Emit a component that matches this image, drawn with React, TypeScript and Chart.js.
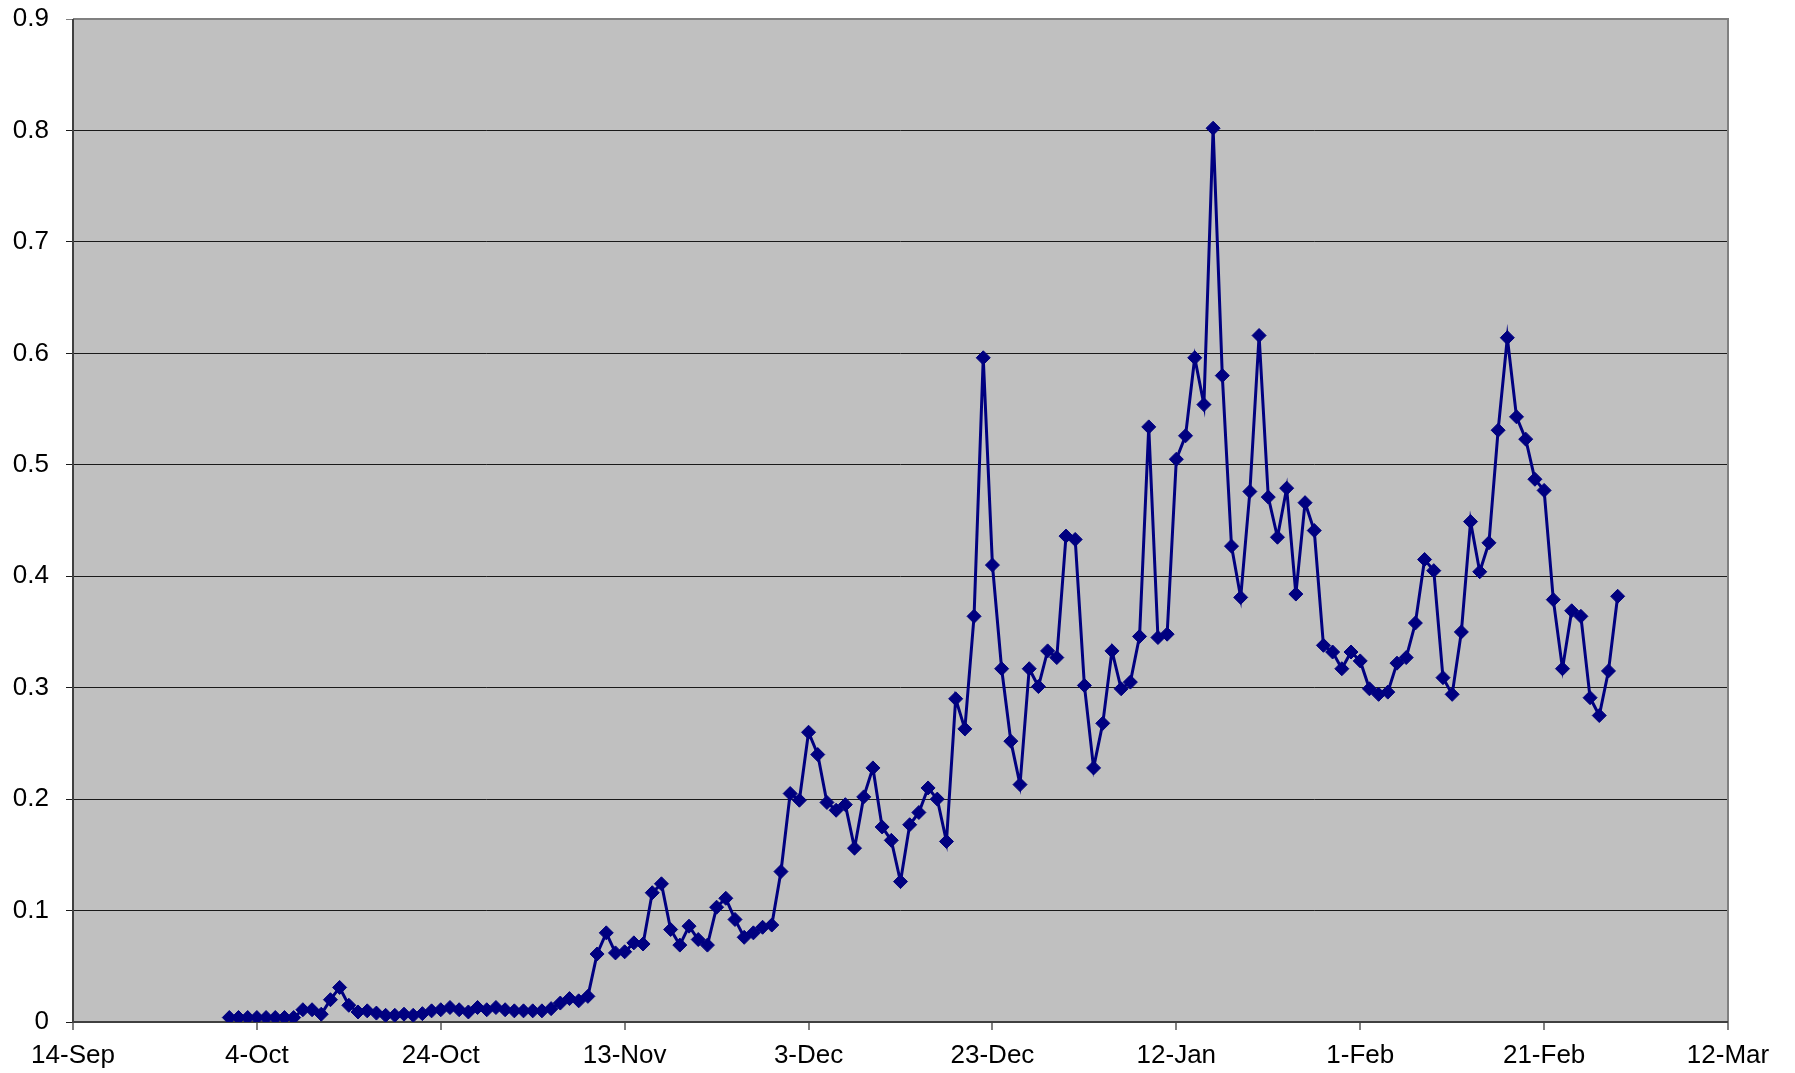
import React, { useEffect, useRef } from "react";
import { Chart, registerables } from "chart.js";

Chart.register(...registerables);

// x axis: days counted from 14-Sep (linear scale 0..180, one tick every 20 days)
const X_TICK_LABELS = ["14-Sep", "4-Oct", "24-Oct", "13-Nov", "3-Dec", "23-Dec", "12-Jan", "1-Feb", "21-Feb", "12-Mar"];
const X_MAX = 180;
const X_STEP = 20;

// first observation is 1-Oct (day 17 after 14-Sep); one value per day after that
const FIRST_DAY = 17;

const VALUES = [
  // 1-Oct .. 12-Oct
  0.004, 0.004, 0.004, 0.004, 0.004, 0.004, 0.004, 0.004, 0.011, 0.011, 0.007, 0.020,
  // 13-Oct .. 24-Oct
  0.031, 0.015, 0.009, 0.010, 0.008, 0.006, 0.006, 0.007, 0.006, 0.0075, 0.010, 0.011,
  // 25-Oct .. 5-Nov
  0.013, 0.011, 0.009, 0.013, 0.011, 0.013, 0.011, 0.010, 0.010, 0.010, 0.010, 0.012,
  // 6-Nov .. 17-Nov
  0.017, 0.021, 0.019, 0.023, 0.061, 0.080, 0.062, 0.063, 0.071, 0.070, 0.116, 0.124,
  // 18-Nov .. 29-Nov
  0.083, 0.069, 0.086, 0.074, 0.069, 0.103, 0.111, 0.092, 0.076, 0.080, 0.085, 0.087,
  // 30-Nov .. 11-Dec
  0.135, 0.205, 0.199, 0.260, 0.240, 0.197, 0.190, 0.195, 0.156, 0.202, 0.228, 0.175,
  // 12-Dec .. 23-Dec
  0.163, 0.126, 0.177, 0.188, 0.210, 0.200, 0.162, 0.290, 0.263, 0.364, 0.596, 0.410,
  // 24-Dec .. 4-Jan
  0.317, 0.252, 0.213, 0.317, 0.301, 0.333, 0.327, 0.436, 0.433, 0.302, 0.228, 0.268,
  // 5-Jan .. 16-Jan
  0.333, 0.299, 0.305, 0.346, 0.534, 0.345, 0.348, 0.505, 0.526, 0.596, 0.554, 0.802,
  // 17-Jan .. 28-Jan
  0.580, 0.427, 0.381, 0.476, 0.616, 0.471, 0.435, 0.479, 0.384, 0.466, 0.441, 0.338,
  // 29-Jan .. 9-Feb
  0.332, 0.317, 0.332, 0.324, 0.299, 0.294, 0.296, 0.322, 0.327, 0.358, 0.415, 0.405,
  // 10-Feb .. 21-Feb
  0.309, 0.294, 0.350, 0.449, 0.404, 0.430, 0.531, 0.614, 0.543, 0.523, 0.487, 0.477,
  // 22-Feb .. 29-Feb
  0.379, 0.317, 0.369, 0.364, 0.291, 0.275, 0.315, 0.382,
];

const Y_MIN = 0;
const Y_MAX = 0.9;
const Y_STEP = 0.1;

const W = 1795;
const H = 1073;

const plotFrame = {
  id: "plotFrame",
  beforeDraw(chart: any) {
    const { ctx, chartArea: a } = chart;
    ctx.save();
    ctx.fillStyle = "#C0C0C0";
    ctx.fillRect(a.left, a.top, a.right - a.left, a.bottom - a.top);
    ctx.restore();
  },
  beforeDatasetsDraw(chart: any) {
    const { ctx, chartArea: a } = chart;
    ctx.save();
    ctx.strokeStyle = "#808080";
    ctx.lineWidth = 2;
    ctx.beginPath();
    ctx.moveTo(a.left, a.top);
    ctx.lineTo(a.right, a.top);
    ctx.lineTo(a.right, a.bottom);
    ctx.stroke();
    ctx.strokeStyle = "#404040";
    ctx.beginPath();
    ctx.moveTo(a.left, a.top);
    ctx.lineTo(a.left, a.bottom);
    ctx.lineTo(a.right, a.bottom);
    ctx.stroke();
    ctx.restore();
  },
};

export default function App() {
  const ref = useRef<HTMLCanvasElement | null>(null);

  useEffect(() => {
    if (!ref.current) return;
    const points = VALUES.map((v, i) => ({ x: FIRST_DAY + i, y: v }));
    const font = { family: "'Liberation Sans', Arial, sans-serif", size: 26 };
    const chart = new Chart(ref.current, {
      type: "line",
      data: {
        datasets: [
          {
            data: points,
            borderColor: "#000080",
            backgroundColor: "#000080",
            borderWidth: 3,
            pointStyle: "rectRot",
            pointRadius: 7,
            pointBorderWidth: 1,
            pointBorderColor: "#000080",
            pointBackgroundColor: "#000080",
            tension: 0,
            fill: false,
          },
        ],
      },
      options: {
        animation: false,
        responsive: false,
        devicePixelRatio: 1,
        layout: { padding: { top: 19, right: 67, left: 0, bottom: 0 } },
        plugins: {
          legend: { display: false },
          tooltip: { enabled: false },
        },
        scales: {
          x: {
            type: "linear",
            min: 0,
            max: X_MAX,
            afterFit: (s: any) => {
              s.height = 51;
              s.paddingLeft = 0;
              s.paddingRight = 0;
            },
            ticks: {
              stepSize: X_STEP,
              autoSkip: false,
              maxRotation: 0,
              color: "#000",
              font,
              padding: 10,
              callback: (v: any) => {
                const idx = Math.round(Number(v) / X_STEP);
                return X_TICK_LABELS[idx] ?? "";
              },
            },
            grid: {
              drawOnChartArea: false,
              drawTicks: true,
              tickLength: 8,
              color: "#808080",
              lineWidth: 2,
            },
            border: { display: false },
          },
          y: {
            type: "linear",
            min: Y_MIN,
            max: Y_MAX,
            afterFit: (s: any) => {
              s.width = 73;
              s.paddingTop = 0;
              s.paddingBottom = 0;
            },
            ticks: {
              stepSize: Y_STEP,
              color: "#000",
              font,
              padding: 17,
              callback: (v: any) => String(Number(Number(v).toFixed(1))),
            },
            grid: {
              drawTicks: true,
              tickLength: 7,
              color: (c: any) => (c.tick && Math.abs(c.tick.value - Y_MAX) < 1e-6 ? "#808080" : "#1a1a1a"),
              lineWidth: 1,
            },
            border: { display: false },
          },
        },
      },
      plugins: [plotFrame],
    });
    return () => chart.destroy();
  }, []);

  return (
    <div style={{ position: "fixed", left: 0, top: 0, width: W, height: H, background: "#fff" }}>
      <canvas ref={ref} width={W} height={H} style={{ display: "block", width: W, height: H }} />
    </div>
  );
}
